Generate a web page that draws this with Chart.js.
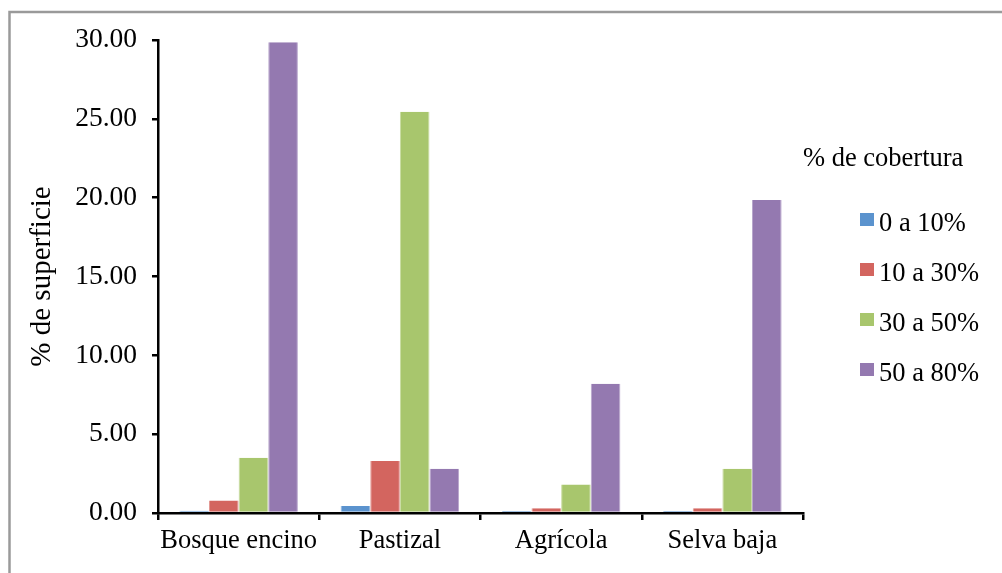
<!DOCTYPE html>
<html>
<head>
<meta charset="utf-8">
<script src="https://cdn.jsdelivr.net/npm/chart.js@4.4.1/dist/chart.umd.min.js"></script>
<style>
html,body{margin:0;padding:0;background:#fff;}
#wrap{position:relative;width:1002px;height:573px;}
canvas{display:block;}
</style>
</head>
<body>
<div id="wrap"><canvas id="c" width="1002" height="573"></canvas></div>
<script>
const categories = ["Bosque encino", "Pastizal", "Agrícola", "Selva baja"];
const seriesNames = ["0 a 10%", "10 a 30%", "30 a 50%", "50 a 80%"];
const s0a10 = [0.14, 0.45, 0.13, 0.13];
const s10a30 = [0.80, 3.30, 0.30, 0.30];
const s30a50 = [3.50, 25.45, 1.80, 2.80];
const s50a80 = [29.85, 2.80, 8.20, 19.85];
const yTicks = [0, 5, 10, 15, 20, 25, 30];
const legendTitle = "% de cobertura";
const yTitle = "% de superficie";

const fills = ["#5B93CE", "#D3655F", "#A8C66D", "#9479B0"];
const edges = ["#8DB3DE", "#E39A95", "#C8DCA0", "#B8A6CC"];
const FONT = "'Liberation Serif', 'Times New Roman', serif";

const frame = {
  id: 'frame',
  beforeDraw(chart) {
    const ctx = chart.ctx;
    ctx.save();
    ctx.fillStyle = '#fff';
    ctx.fillRect(0, 0, chart.width, chart.height);
    ctx.strokeStyle = '#9a9a9a';
    ctx.lineWidth = 2.5;
    ctx.beginPath();
    ctx.moveTo(9.5, chart.height);
    ctx.lineTo(9.5, 12);
    ctx.lineTo(chart.width, 12);
    ctx.stroke();
    ctx.restore();
  }
};

const legendPlugin = {
  id: 'customLegend',
  afterDraw(chart) {
    const ctx = chart.ctx;
    ctx.save();
    ctx.fillStyle = '#000';
    ctx.font = "26.5px " + FONT;
    ctx.textBaseline = 'alphabetic';
    ctx.textAlign = 'left';
    ctx.fillText(legendTitle, 803, 166);
    chart.data.datasets.forEach((ds, i) => {
      ctx.fillStyle = ds.backgroundColor;
      ctx.fillRect(860, 213 + i * 50, 14, 13);
      ctx.fillStyle = '#000';
      ctx.fillText(ds.label, 879, 231 + i * 50);
    });
    ctx.restore();
  }
};

const seriesData = [s0a10, s10a30, s30a50, s50a80];

new Chart(document.getElementById('c'), {
  type: 'bar',
  data: {
    labels: categories,
    datasets: seriesData.map((d, i) => ({
      label: seriesNames[i],
      data: d,
      backgroundColor: fills[i],
      borderColor: edges[i],
      borderWidth: {left: 1, right: 1, top: 0, bottom: 0},
      barPercentage: 1.0,
      categoryPercentage: 0.735
    }))
  },
  options: {
    responsive: false,
    animation: false,
    devicePixelRatio: 1,
    layout: {padding: {top: 40, right: 199, bottom: 0, left: 0}},
    plugins: {
      legend: {display: false},
      tooltip: {enabled: false}
    },
    scales: {
      x: {
        offset: true,
        grid: {
          offset: true,
          drawOnChartArea: false,
          drawTicks: true,
          tickLength: 7,
          color: '#000',
          lineWidth: 2.5
        },
        border: {display: true, color: '#000', width: 2.5},
        ticks: {
          color: '#000',
          font: {family: FONT, size: 26.5},
          padding: 5,
          maxRotation: 0,
          autoSkip: false
        },
        afterFit(scale) { scale.height = 60; }
      },
      y: {
        min: 0,
        max: 30,
        afterBuildTicks(scale) { scale.ticks = yTicks.map(v => ({value: v})); },
        grid: {
          drawOnChartArea: false,
          drawTicks: true,
          tickLength: 6,
          color: '#000',
          lineWidth: 2.5
        },
        border: {display: true, color: '#000', width: 2.5},
        ticks: {
          color: '#000',
          font: {family: FONT, size: 27.5},
          padding: 15,
          callback: v => Number(v).toFixed(2)
        },
        title: {
          display: true,
          text: yTitle,
          color: '#000',
          font: {family: FONT, size: 29},
          padding: {top: 25, bottom: 0}
        },
        afterFit(scale) { scale.width = 158; }
      }
    }
  },
  plugins: [frame, legendPlugin]
});
</script>
</body>
</html>
